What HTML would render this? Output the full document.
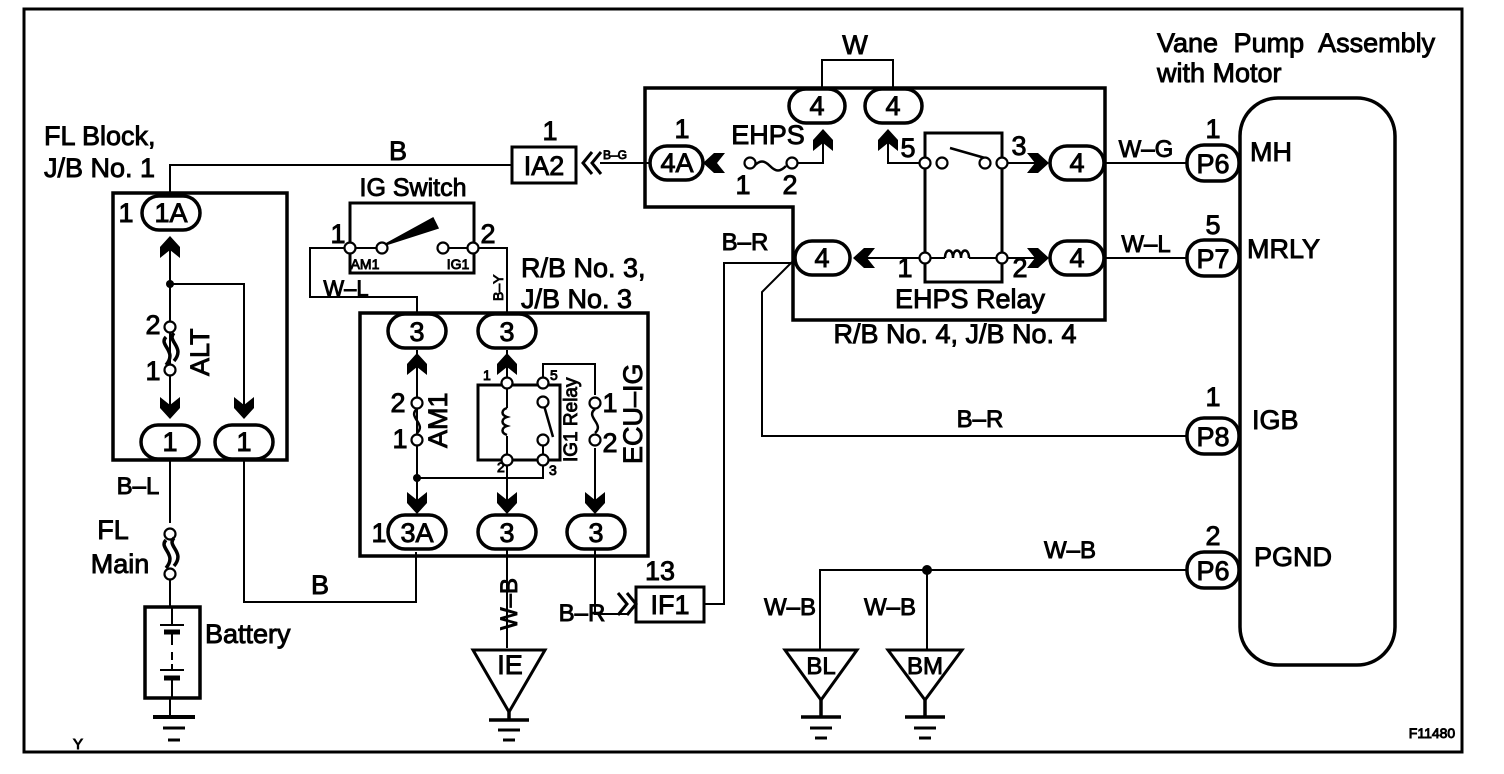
<!DOCTYPE html>
<html><head><meta charset="utf-8"><style>
html,body{margin:0;padding:0;background:#fff;}
svg{display:block;}
text{font-family:"Liberation Sans",Arial,sans-serif;fill:#000;stroke:#000;stroke-width:0.9;}
.m{text-anchor:middle;}
</style></head><body>
<svg width="1504" height="774" viewBox="0 0 1504 774" xmlns="http://www.w3.org/2000/svg">
<defs>
<path id="ad" d="M-10,-13 L0,-5 L10,-13 L10,-2 L0,9 L-10,-2 Z" fill="#000"/>
<path id="ch" d="M0,-11 L-9,0 L0,11 M9,-11 L0,0 L9,11" fill="none" stroke="#000" stroke-width="3"/>
</defs>
<g fill="none" stroke="#000" stroke-width="2">
<rect x="24" y="9" width="1438" height="743" stroke-width="3"/>
<rect x="113" y="193" width="174" height="267" stroke-width="3.5"/>
<path d="M170,195 V165 H512"/>
<rect x="512" y="147" width="64" height="36" stroke-width="3"/>
<path d="M600,163 H650"/>
<path d="M170,245 V410 M170,284 H244 V410"/>
<path d="M170,460 V523 M170,580 V607 M170,698 V717"/>
<path d="M244,460 V602 H416 V552"/>
<rect x="145" y="607" width="55" height="91" stroke-width="3.5"/>
<path d="M172,607 V625 M160,625 H184 M172,632 V645 M172,652 V660 M172,664 V670 M160,670 H184 M172,678 V698"/>
<path d="M164,632 H180 M164,678 H180" stroke-width="5"/>
<path d="M153,717 H195" stroke-width="4"/><path d="M163,728 H185 M168,740 H180" stroke-width="3"/>
<path d="M350,273 V203 H474 V273 Z" stroke-width="3"/>
<path d="M350,248 H382 M443,248 H473"/>
<path d="M382,246 L433,218 L438,228 Z" fill="#000" stroke-width="1.5"/>
<path d="M350,248 H310 V297 H417 V313"/>
<path d="M473,248 H507 V313"/>
<rect x="360" y="313" width="288" height="243" stroke-width="3.5"/>
<path d="M417,350 V505 M417,478 H543 V460 M507,350 V383 M507,460 V505"/>
<path d="M478,385 H560 V460 H478 Z" stroke-width="3"/>
<path d="M507,383 V408 M507,436 V460 M543,440 V460"/>
<path d="M507,408 c-6,2 -6,7 0,9 c-6,2 -6,7 0,9 c-6,2 -6,7 0,9" stroke-width="2.5"/>
<path d="M543,402 L553,437" stroke-width="2.5"/>
<path d="M543,383 V364 H595 V395 M595,448 V505"/>
<path d="M417,409 c-10,8 10,15 0,24 M595,409 c-10,8 10,15 0,24" stroke-width="2.5"/>
<path d="M786,166 c-6,6 -10,6 -16,0 c-6,-6 -10,-6 -16,0" stroke-width="2.5"/>
<path d="M507,550 V648"/>
<path d="M473,650 H545 L509,712 Z" stroke-width="3"/>
<path d="M509,712 V720 M489,720 H529" stroke-width="3.5"/><path d="M498,730 H520 M503,740 H515" stroke-width="3"/>
<path d="M595,550 V614 H628"/>
<rect x="636" y="587" width="68" height="35" stroke-width="3"/>
<path d="M704,604 H724 V263 H795"/>
<path d="M645,88 H1105 V320 H793 V207 H645 Z" stroke-width="3.5"/>
<path d="M792,163 H823 V140 M822,88 V60 H893 V88 M888,140 V163 H925"/>
<path d="M925,133 H1002 V282 H925 Z" stroke-width="3"/>
<path d="M1002,163 H1040 M1002,258 H1040 M925,258 H862 M925,258 H945 M969,258 H1002"/>
<path d="M945,258 c0,-10 8,-10 8,0 c0,-10 8,-10 8,0 c0,-10 8,-10 8,0" stroke-width="2.5"/>
<path d="M950,148 L985,158" stroke-width="2.5"/>
<path d="M1105,163 H1187 M1105,258 H1187"/>
<path d="M792,262 L762,292 V436 H1187"/>
<path d="M820,650 V570 H1187 M927,570 V650"/>
<path d="M785,650 H857 L821,700 Z" stroke-width="3"/><path d="M821,700 V717 M801,717 H841" stroke-width="3.5"/><path d="M810,728 H832 M815,738 H827" stroke-width="3"/>
<path d="M888,650 H962 L925,700 Z" stroke-width="3"/><path d="M925,700 V717 M905,717 H945" stroke-width="3.5"/><path d="M914,728 H936 M919,738 H931" stroke-width="3"/>
<rect x="1240" y="98" width="155" height="567" rx="38" stroke-width="3.5"/>
<g stroke-width="3.5" fill="#fff">
<rect x="142" y="196" width="58" height="34" rx="17"/>
<rect x="141" y="425" width="58" height="34" rx="17"/>
<rect x="215" y="425" width="58" height="34" rx="17"/>
<rect x="388" y="314" width="58" height="34" rx="17"/>
<rect x="478" y="314" width="58" height="34" rx="17"/>
<rect x="388" y="515" width="58" height="34" rx="17"/>
<rect x="478" y="515" width="58" height="34" rx="17"/>
<rect x="567" y="515" width="58" height="34" rx="17"/>
<rect x="650" y="146" width="53" height="34" rx="17"/>
<rect x="789" y="89" width="56" height="34" rx="17"/>
<rect x="865" y="89" width="57" height="34" rx="17"/>
<rect x="1050" y="146" width="54" height="34" rx="17"/>
<rect x="1050" y="241" width="54" height="34" rx="17"/>
<rect x="795" y="241" width="55" height="34" rx="17"/>
<rect x="1187" y="145" width="52" height="36" rx="17"/>
<rect x="1187" y="240" width="52" height="36" rx="17"/>
<rect x="1187" y="418" width="52" height="36" rx="17"/>
<rect x="1187" y="552" width="52" height="36" rx="17"/>
</g>
<g fill="#fff" stroke-width="2.2">
<circle cx="170" cy="327" r="5.5"/><circle cx="170" cy="370" r="5.5"/>
<circle cx="170" cy="534" r="5.5"/><circle cx="170" cy="574" r="5.5"/>
<circle cx="350" cy="248" r="5.5"/><circle cx="382" cy="248" r="5.5"/><circle cx="443" cy="248" r="5.5"/><circle cx="473" cy="248" r="5.5"/>
<circle cx="417" cy="403" r="5.5"/><circle cx="417" cy="440" r="5.5"/>
<circle cx="595" cy="403" r="5.5"/><circle cx="595" cy="440" r="5.5"/>
<circle cx="507" cy="383" r="5.5"/><circle cx="543" cy="383" r="5.5"/><circle cx="543" cy="402" r="5.5"/><circle cx="543" cy="440" r="5.5"/><circle cx="507" cy="460" r="5.5"/><circle cx="543" cy="460" r="5.5"/>
<circle cx="750" cy="163" r="5.5"/><circle cx="792" cy="163" r="5.5"/>
<circle cx="925" cy="163" r="5.5"/><circle cx="942" cy="163" r="5.5"/><circle cx="985" cy="163" r="5.5"/><circle cx="1002" cy="163" r="5.5"/>
<circle cx="925" cy="258" r="5.5"/><circle cx="1002" cy="258" r="5.5"/>
</g>
<path d="M166,337 c-8,8 12,14 0,28 M174,333 c-8,8 12,14 0,28 M166,540 c-8,8 12,14 0,28 M174,538 c-8,8 12,14 0,28" stroke-width="3.5"/>
</g>
<circle cx="170" cy="284" r="4"/><circle cx="417" cy="478" r="4"/><circle cx="927" cy="570" r="5"/>
<use href="#ad" transform="translate(170,245) rotate(180)"/>
<use href="#ad" transform="translate(170,410)"/>
<use href="#ad" transform="translate(244,410)"/>
<use href="#ad" transform="translate(417,362) rotate(180)"/>
<use href="#ad" transform="translate(507,362) rotate(180)"/>
<use href="#ad" transform="translate(417,505)"/>
<use href="#ad" transform="translate(507,505)"/>
<use href="#ad" transform="translate(595,505)"/>
<use href="#ad" transform="translate(712,163) rotate(90)"/>
<use href="#ad" transform="translate(823,138) rotate(180)"/>
<use href="#ad" transform="translate(888,138) rotate(180)"/>
<use href="#ad" transform="translate(1040,163) rotate(-90)"/>
<use href="#ad" transform="translate(1040,258) rotate(-90)"/>
<use href="#ad" transform="translate(862,258) rotate(90)"/>
<use href="#ch" transform="translate(592,163)"/>
<use href="#ch" transform="translate(627,604) rotate(180)"/>
<g font-size="27">
<text x="44" y="145">FL Block,</text>
<text x="44" y="177">J/B No. 1</text>
<text x="398" y="160" class="m">B</text>
<text x="550" y="140" class="m">1</text>
<text x="544" y="175" class="m">IA2</text>
<text x="413" y="196" class="m" font-size="25">IG Switch</text>
<text x="338" y="243" class="m">1</text>
<text x="488" y="243" class="m">2</text>
<text x="346" y="296" class="m" font-size="22">W–L</text>
<text x="521" y="277">R/B No. 3,</text>
<text x="521" y="308">J/B No. 3</text>
<text x="126" y="222" class="m">1</text>
<text x="171" y="222" class="m">1A</text>
<text x="153" y="334" class="m">2</text>
<text x="153" y="380" class="m">1</text>
<text x="170" y="451" class="m">1</text>
<text x="244" y="451" class="m">1</text>
<text x="138" y="494" class="m" font-size="24">B–L</text>
<text x="113" y="539" class="m">FL</text>
<text x="120" y="573" class="m">Main</text>
<text x="205" y="643">Battery</text>
<text x="320" y="594" class="m">B</text>
<text x="417" y="341" class="m">3</text>
<text x="507" y="341" class="m">3</text>
<text x="398" y="412" class="m">2</text>
<text x="400" y="448" class="m">1</text>
<text x="610" y="412" class="m">1</text>
<text x="610" y="452" class="m">2</text>
<text x="379" y="542" class="m">1</text>
<text x="417" y="542" class="m">3A</text>
<text x="507" y="542" class="m">3</text>
<text x="596" y="542" class="m">3</text>
<text x="510" y="674" class="m">IE</text>
<text x="660" y="580" class="m">13</text>
<text x="670" y="614" class="m">IF1</text>
<text x="582" y="621" class="m" font-size="24">B–R</text>
<text x="682" y="138" class="m">1</text>
<text x="677" y="172" class="m">4A</text>
<text x="768" y="144" class="m">EHPS</text>
<text x="743" y="194" class="m">1</text>
<text x="790" y="194" class="m">2</text>
<text x="817" y="115" class="m">4</text>
<text x="893" y="115" class="m">4</text>
<text x="855" y="54" class="m">W</text>
<text x="908" y="157" class="m">5</text>
<text x="1019" y="155" class="m">3</text>
<text x="905" y="277" class="m">1</text>
<text x="1020" y="277" class="m">2</text>
<text x="1077" y="172" class="m">4</text>
<text x="1077" y="267" class="m">4</text>
<text x="822" y="267" class="m">4</text>
<text x="970" y="308" class="m">EHPS Relay</text>
<text x="955" y="343" class="m">R/B No. 4, J/B No. 4</text>
<text x="745" y="250" class="m" font-size="24">B–R</text>
<text x="1146" y="157" class="m" font-size="24">W–G</text>
<text x="1146" y="252" class="m" font-size="24">W–L</text>
<text x="1157" y="52" word-spacing="8">Vane Pump Assembly</text>
<text x="1157" y="82">with Motor</text>
<text x="1213" y="138" class="m">1</text>
<text x="1213" y="173" class="m">P6</text>
<text x="1250" y="161">MH</text>
<text x="1213" y="234" class="m">5</text>
<text x="1213" y="268" class="m">P7</text>
<text x="1247" y="258">MRLY</text>
<text x="1213" y="406" class="m">1</text>
<text x="1213" y="446" class="m">P8</text>
<text x="1252" y="429">IGB</text>
<text x="980" y="427" class="m" font-size="24">B–R</text>
<text x="1213" y="545" class="m">2</text>
<text x="1213" y="580" class="m">P6</text>
<text x="1254" y="566">PGND</text>
<text x="1070" y="558" class="m" font-size="24">W–B</text>
<text x="790" y="615" class="m" font-size="24">W–B</text>
<text x="890" y="615" class="m" font-size="24">W–B</text>
<text x="821" y="674" class="m" font-size="24">BL</text>
<text x="925" y="674" class="m" font-size="24">BM</text>
<text x="78" y="749" class="m" font-size="15" stroke-width="0.3">Y</text>
<text x="1432" y="738" class="m" font-size="14" stroke-width="0.3">F11480</text>
</g>
<text x="603" y="159" font-size="12" stroke-width="0.3">B–G</text>
<text x="365" y="269" class="m" font-size="14" stroke-width="0.3">AM1</text>
<text x="458" y="269" class="m" font-size="14" stroke-width="0.3">IG1</text>
<text x="497" y="472" font-size="14" stroke-width="0.3">2</text>
<text x="549" y="475" font-size="14" stroke-width="0.3">3</text>
<text x="483" y="380" font-size="14" stroke-width="0.3">1</text>
<text x="550" y="380" font-size="14" stroke-width="0.3">5</text>
<text transform="translate(503,301) rotate(-90)" font-size="14" stroke-width="0.3">B–Y</text>
<text transform="translate(209,376) rotate(-90)" font-size="27">ALT</text>
<text transform="translate(447,448) rotate(-90)" font-size="27">AM1</text>
<text transform="translate(577,462) rotate(-90)" font-size="19" stroke-width="0.6">IG1 Relay</text>
<text transform="translate(642,464) rotate(-90)" font-size="27">ECU–IG</text>
<text transform="translate(517,630) rotate(-90)" font-size="24">W–B</text>
</svg>
</body></html>
